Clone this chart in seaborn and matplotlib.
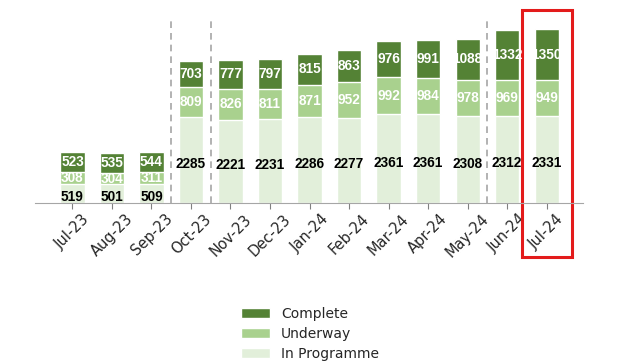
import pandas as pd
import matplotlib.pyplot as plt
import matplotlib.patches as mpatches
import seaborn as sns

sns.set_style('white')

#Data
months = ['Jul-23', 'Aug-23', 'Sep-23', 'Oct-23', 'Nov-23', 'Dec-23', 'Jan-24',
          'Feb-24', 'Mar-24', 'Apr-24', 'May-24', 'Jun-24', 'Jul-24']
in_programme = [519, 501, 509, 2285, 2221, 2231, 2286, 2277, 2361, 2361, 2308, 2312, 2331]
underway = [308, 304, 311, 809, 826, 811, 871, 952, 992, 984, 978, 969, 949]
complete = [523, 535, 544, 703, 777, 797, 815, 863, 976, 991, 1088, 1332, 1350]
separators = [2.5, 3.5, 10.5]
highlight = 'Jul-24'

df = pd.DataFrame({'month': months, 'in_programme': in_programme,
                   'underway': underway, 'complete': complete})
df['upto_underway'] = df['in_programme'] + df['underway']
df['total'] = df['upto_underway'] + df['complete']

c_complete = '#548235'
c_underway = '#a9d18e'
c_programme = '#e2efda'

fig = plt.figure(figsize=(6.35, 3.62), dpi=100)
ax = fig.add_axes([0.055, 0.439, 0.863, 0.511])

'''
Stacked bars drawn as layered cumulative totals
'''
sns.barplot(data=df, x='month', y='total', color=c_complete, width=0.61,
            saturation=1, label='Complete', ax=ax)
sns.barplot(data=df, x='month', y='upto_underway', color=c_underway, width=0.61,
            saturation=1, label='Underway', ax=ax)
sns.barplot(data=df, x='month', y='in_programme', color=c_programme, width=0.61,
            saturation=1, label='In Programme', ax=ax)
handles, labels = ax.get_legend_handles_labels()
if ax.get_legend() is not None:
    ax.get_legend().remove()

lab_font = dict(family='Liberation Sans', fontweight='bold', fontsize=9.8,
                ha='center', va='center')
for i, r in df.iterrows():
    ax.text(i, r['in_programme'] / 2 - 100, str(r['in_programme']), color='black', **lab_font)
    ax.text(i, r['in_programme'] + r['underway'] / 2, str(r['underway']), color='white', **lab_font)
    ax.text(i, r['upto_underway'] + r['complete'] / 2, str(r['complete']), color='white', **lab_font)

for xs in separators:
    ax.axvline(xs, color='#a6a6a6', linestyle=(0, (4, 3)), linewidth=1.2, zorder=0.5)

ax.set_xlim(-0.95, 12.92)
ax.set_ylim(0, 4930)
ax.set_xlabel('')
ax.set_ylabel('')
ax.set_yticks([])
sns.despine(ax=ax, left=True)
ax.spines['bottom'].set_color('#a6a6a6')
ax.tick_params(axis='x', bottom=True, length=4, color='#808080', labelsize=10.5, pad=2)
plt.setp(ax.get_xticklabels(), rotation=45, ha='center')

# red highlight box round the latest month
hi = months.index(highlight)
ax.add_patch(mpatches.Rectangle((hi - 0.62, -1437), 1.27, 6573, fill=False,
                                edgecolor='#e31b1b', linewidth=2.2, clip_on=False))

fig.legend(handles, labels, loc='center', bbox_to_anchor=(310 / 635, 1 - 334 / 362),
           frameon=False, fontsize=10, labelspacing=0.42, handlelength=2.1,
           handletextpad=0.75)

fig.savefig('out.png', dpi=100)
